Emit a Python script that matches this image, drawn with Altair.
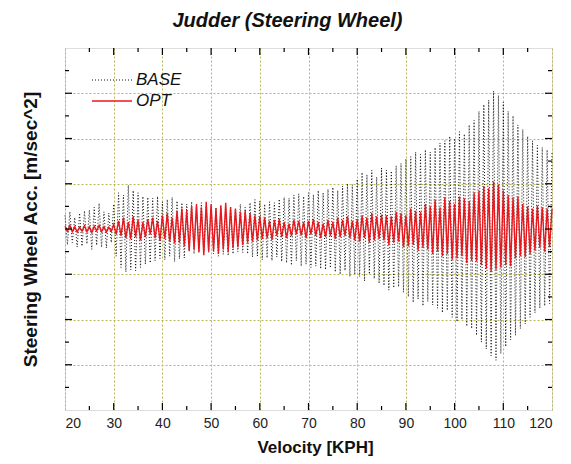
import altair as alt
import numpy as np
import pandas as pd

# Velocity sweep, sampled every half KPH (peak / trough of each judder cycle)
velocity = np.arange(20.0, 120.25, 0.5)

# Steering wheel acceleration, baseline configuration
base_acc = [
    0.30, -0.35, 0.38, -0.30, 0.25, -0.40, 0.35, -0.38, 0.40, -0.33,
    0.42, -0.45, 0.48, -0.36, 0.57, -0.40, 0.38, -0.42, 0.35, -0.30,
    0.55, -0.60, 0.80, -0.85, 0.75, -0.95, 0.97, -0.90, 0.85, -0.92,
    0.80, -0.85, 0.72, -0.78, 0.70, -0.75, 0.68, -0.70, 0.72, -0.65,
    0.60, -0.68, 0.65, -0.60, 0.70, -0.72, 0.62, -0.66, 0.58, -0.64,
    0.55, -0.50, 0.60, -0.55, 0.52, -0.48, 0.58, -0.50, 0.50, -0.52,
    0.50, -0.55, 0.48, -0.60, 0.52, -0.56, 0.46, -0.58, 0.50, -0.55,
    0.45, -0.50, 0.55, -0.52, 0.48, -0.55, 0.58, -0.62, 0.65, -0.60,
    0.62, -0.68, 0.55, -0.64, 0.60, -0.70, 0.58, -0.62, 0.66, -0.72,
    0.70, -0.75, 0.68, -0.80, 0.75, -0.70, 0.78, -0.82, 0.72, -0.78,
    0.80, -0.85, 0.76, -0.82, 0.85, -0.88, 0.80, -0.90, 0.88, -0.86,
    0.92, -0.95, 0.85, -1.00, 0.95, -0.92, 1.00, -1.05, 0.98, -1.00,
    1.10, -1.05, 1.25, -1.15, 1.20, -1.00, 1.30, -1.10, 1.15, -1.20,
    1.35, -1.25, 1.30, -1.35, 1.28, -1.30, 1.40, -1.28, 1.45, -1.40,
    1.55, -1.50, 1.60, -1.62, 1.70, -1.55, 1.65, -1.70, 1.75, -1.60,
    1.70, -1.68, 1.80, -1.75, 1.90, -1.85, 1.95, -1.80, 2.05, -1.95,
    2.00, -2.05, 2.15, -2.00, 2.10, -2.15, 2.30, -2.20, 2.40, -2.35,
    2.60, -2.50, 2.75, -2.65, 2.85, -2.80, 3.05, -2.90, 2.95, -2.75,
    2.80, -2.60, 2.60, -2.45, 2.50, -2.35, 2.30, -2.20, 2.20, -2.10,
    2.05, -1.95, 1.95, -1.85, 1.85, -1.75, 1.80, -1.70, 1.75, -1.65,
    1.70,
]

# Steering wheel acceleration, optimised configuration
opt_acc = [
    0.06, -0.05, 0.08, -0.06, 0.05, -0.07, 0.04, -0.05, 0.07, -0.06,
    0.05, -0.08, 0.06, -0.04, 0.08, -0.06, 0.05, -0.07, 0.04, -0.05,
    0.10, -0.12, 0.18, -0.15, 0.25, -0.20, 0.15, -0.22, 0.28, -0.18,
    0.20, -0.25, 0.15, -0.18, 0.22, -0.12, 0.25, -0.20, 0.18, -0.26,
    0.30, -0.22, 0.35, -0.28, 0.25, -0.32, 0.40, -0.30, 0.45, -0.38,
    0.42, -0.48, 0.50, -0.45, 0.55, -0.52, 0.48, -0.58, 0.60, -0.50,
    0.55, -0.48, 0.45, -0.55, 0.52, -0.45, 0.58, -0.50, 0.48, -0.42,
    0.45, -0.40, 0.38, -0.35, 0.40, -0.30, 0.35, -0.28, 0.30, -0.25,
    0.28, -0.22, 0.25, -0.20, 0.18, -0.24, 0.20, -0.15, 0.22, -0.18,
    0.15, -0.20, 0.12, -0.16, 0.20, -0.12, 0.18, -0.14, 0.15, -0.20,
    0.18, -0.12, 0.22, -0.15, 0.16, -0.20, 0.12, -0.18, 0.20, -0.15,
    0.15, -0.22, 0.25, -0.18, 0.20, -0.15, 0.28, -0.20, 0.18, -0.25,
    0.22, -0.28, 0.30, -0.20, 0.25, -0.30, 0.35, -0.25, 0.28, -0.22,
    0.32, -0.25, 0.30, -0.35, 0.28, -0.30, 0.38, -0.28, 0.35, -0.40,
    0.30, -0.38, 0.45, -0.35, 0.40, -0.48, 0.38, -0.42, 0.55, -0.45,
    0.50, -0.55, 0.65, -0.50, 0.48, -0.60, 0.70, -0.55, 0.62, -0.68,
    0.55, -0.65, 0.72, -0.60, 0.68, -0.75, 0.62, -0.70, 0.80, -0.72,
    0.85, -0.80, 0.95, -0.88, 0.90, -0.95, 1.05, -0.90, 0.98, -0.85,
    0.85, -0.80, 0.75, -0.82, 0.70, -0.65, 0.72, -0.60, 0.55, -0.62,
    0.50, -0.55, 0.45, -0.48, 0.52, -0.42, 0.48, -0.50, 0.45, -0.40,
    0.45,
]

# Axis tick positions (drawn inward on all four sides of the frame)
x_major_ticks = [30, 40, 50, 60, 70, 80, 90, 100, 110]
x_minor_ticks = [25, 35, 45, 55, 65, 75, 85, 95, 105, 115]
y_major_ticks = [-3, -2, -1, 0, 1, 2, 3]
y_minor_ticks = [-3.5, -2.5, -1.5, -0.5, 0.5, 1.5, 2.5, 3.5]
x_labels = [20, 30, 40, 50, 60, 70, 80, 90, 100, 110, 120]

W, H = 487, 362
FONT = "Liberation Sans"
GRID = "#b8b85c"
DOTS = [1, 2]

base_df = pd.DataFrame({"v": velocity, "acc": base_acc})
opt_df = pd.DataFrame({"v": velocity, "acc": opt_acc})

x_scale = alt.Scale(domain=[20, 120], nice=False, zero=False)
y_scale = alt.Scale(domain=[-4, 4], nice=False, zero=False)

x_enc = alt.X(
    "v:Q", scale=x_scale,
    axis=alt.Axis(
        values=x_labels, title="Velocity [KPH]", ticks=False, tickSize=0,
        domain=False, labelPadding=6, labelFontSize=14, labelFont=FONT,
        labelColor="#222", titleFont=FONT, titleFontSize=17, titleFontWeight="bold",
        titleColor="#111", titleY=37, titleX=250, titleBaseline="middle",
        grid=True, gridDash=[2, 2], gridColor=GRID, gridWidth=1,
    ),
)
y_enc = alt.Y(
    "acc:Q", scale=y_scale,
    axis=alt.Axis(
        values=y_major_ticks, labels=False, ticks=False, tickSize=0, domain=False,
        title="Steering Wheel Acc. [m/sec^2]", titleFont=FONT, titleFontSize=19,
        titleFontWeight="bold", titleColor="#111", titleX=-35, titleY=H / 2,
        titleAngle=270, titleAlign="center", titleBaseline="middle",
        grid=True, gridDash=[2, 2], gridColor=GRID, gridWidth=1,
    ),
)

base_line = alt.Chart(base_df).mark_line(
    color="#111", strokeWidth=1, strokeDash=DOTS
).encode(x=x_enc, y=y_enc)

opt_line = alt.Chart(opt_df).mark_line(
    color="#e8191e", strokeWidth=1.4
).encode(x=alt.X("v:Q", scale=x_scale), y=alt.Y("acc:Q", scale=y_scale))


def x_ticks(values, length):
    df = pd.DataFrame({"t": values})
    bottom = alt.Chart(df).mark_rule(color="black", strokeWidth=1.2).encode(
        x=alt.X("t:Q", scale=x_scale), y=alt.value(H), y2=alt.value(H - length)
    )
    top = alt.Chart(df).mark_rule(color="black", strokeWidth=1.2).encode(
        x=alt.X("t:Q", scale=x_scale), y=alt.value(0), y2=alt.value(length)
    )
    return [bottom, top]


def y_ticks(values, length):
    df = pd.DataFrame({"t": values})
    left = alt.Chart(df).mark_rule(color="black", strokeWidth=1.2).encode(
        y=alt.Y("t:Q", scale=y_scale), x=alt.value(0), x2=alt.value(length)
    )
    right = alt.Chart(df).mark_rule(color="black", strokeWidth=1.2).encode(
        y=alt.Y("t:Q", scale=y_scale), x=alt.value(W), x2=alt.value(W - length)
    )
    return [left, right]


tick_layers = (
    x_ticks(x_major_ticks, 7) + x_ticks(x_minor_ticks, 4)
    + y_ticks(y_major_ticks, 7) + y_ticks(y_minor_ticks, 4)
)

# In-plot legend
legend_base = alt.Chart(pd.DataFrame({"s": ["BASE"]})).mark_rule(
    color="#111", strokeWidth=1, strokeDash=DOTS
).encode(x=alt.value(27), x2=alt.value(67), y=alt.value(32))
legend_opt = alt.Chart(pd.DataFrame({"s": ["OPT"]})).mark_rule(
    color="#e8191e", strokeWidth=1.6
).encode(x=alt.value(27), x2=alt.value(67), y=alt.value(53))
legend_text = alt.Chart(pd.DataFrame({"s": ["BASE", "OPT"], "row": [32, 53]})).mark_text(
    align="left", baseline="middle", font=FONT, fontSize=17, fontStyle="italic", color="#111"
).encode(x=alt.value(71), y=alt.Y("row:Q", scale=None), text="s:N")

chart = alt.layer(
    base_line, opt_line, *tick_layers, legend_base, legend_opt, legend_text
).properties(
    width=W, height=H,
    title=alt.TitleParams(
        "Judder (Steering Wheel)", font=FONT, fontSize=20, fontWeight="bold",
        fontStyle="italic", color="#111", anchor="middle", dx=-21, offset=16,
    ),
    autosize=alt.AutoSizeParams(type="none"),
    padding={"left": 65, "top": 48, "right": 19, "bottom": 54},
).configure_view(
    stroke="black", strokeWidth=1.5
).configure(background="white")

chart.save("out.html", embed_options={"renderer": "svg", "actions": False})
